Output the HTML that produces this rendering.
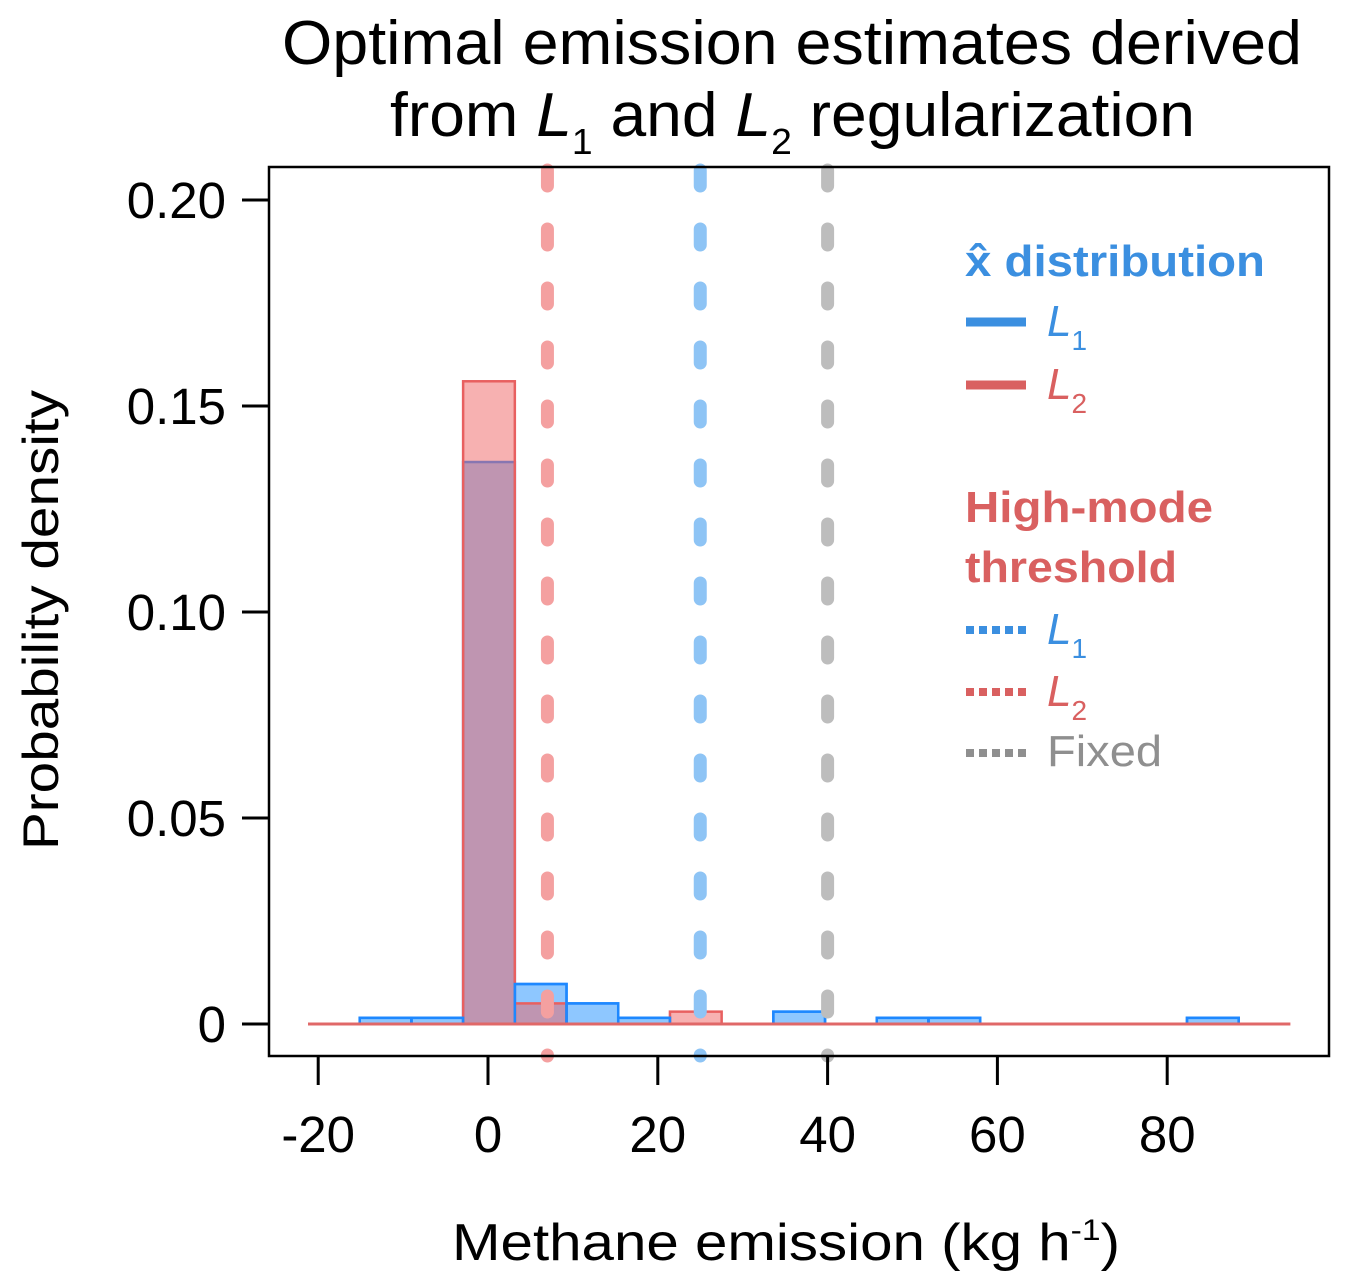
<!DOCTYPE html>
<html><head><meta charset="utf-8"><style>
html,body{margin:0;padding:0;background:#fff}
svg{display:block;font-family:"Liberation Sans",sans-serif}
</style></head><body>
<svg id="chart" width="1345" height="1285" viewBox="0 0 1345 1285" xmlns="http://www.w3.org/2000/svg">
<g font-size="62" fill="#000">
<text x="282" y="64" textLength="1020" lengthAdjust="spacingAndGlyphs">Optimal emission estimates derived</text>
<text x="390" y="136" textLength="805" lengthAdjust="spacingAndGlyphs">from <tspan font-style="italic">L</tspan><tspan font-size="36" dy="18">1</tspan><tspan dy="-18"> and </tspan><tspan font-style="italic">L</tspan><tspan font-size="36" dy="18">2</tspan><tspan dy="-18"> regularization</tspan></text>
</g>
<g id="plot"></g>
<rect x="269" y="167" width="1060" height="889" fill="none" stroke="#000" stroke-width="2.5"/>
<text transform="translate(58,850) rotate(-90)" font-size="50" textLength="460" lengthAdjust="spacingAndGlyphs">Probability density</text>
<text x="452" y="1260" font-size="52" textLength="668" lengthAdjust="spacingAndGlyphs">Methane emission (kg h<tspan font-size="30" dy="-20">-1</tspan><tspan dy="20">)</tspan></text>
<g font-size="44">
<text x="965" y="276" fill="#3b8fe0" font-weight="bold" textLength="300" lengthAdjust="spacingAndGlyphs">x̂ distribution</text>
<line x1="966" y1="322" x2="1026" y2="322" stroke="#3b8fe0" stroke-width="9"/>
<text x="1047" y="336" fill="#3b8fe0" font-style="italic">L<tspan font-size="28" dy="14" font-style="normal">1</tspan></text>
<line x1="966" y1="385" x2="1026" y2="385" stroke="#d96060" stroke-width="9"/>
<text x="1047" y="399" fill="#d96060" font-style="italic">L<tspan font-size="28" dy="14" font-style="normal">2</tspan></text>
<text x="965" y="522" fill="#d96060" font-weight="bold" textLength="248" lengthAdjust="spacingAndGlyphs">High-mode</text>
<text x="965" y="582" fill="#d96060" font-weight="bold" textLength="212" lengthAdjust="spacingAndGlyphs">threshold</text>
<line x1="966" y1="630" x2="1026" y2="630" stroke="#3b8fe0" stroke-width="8" stroke-dasharray="8,5"/>
<text x="1047" y="644" fill="#3b8fe0" font-style="italic">L<tspan font-size="28" dy="14" font-style="normal">1</tspan></text>
<line x1="966" y1="692" x2="1026" y2="692" stroke="#d96060" stroke-width="8" stroke-dasharray="8,5"/>
<text x="1047" y="706" fill="#d96060" font-style="italic">L<tspan font-size="28" dy="14" font-style="normal">2</tspan></text>
<line x1="966" y1="753" x2="1026" y2="753" stroke="#8f8f8f" stroke-width="8" stroke-dasharray="8,5"/>
<text x="1047" y="766" fill="#8f8f8f" textLength="115" lengthAdjust="spacingAndGlyphs">Fixed</text>
</g>
</svg>
<script>
const binStart = -21.2;
const binWidth = 6.09;
const blueDensity = [0,0.0015,0.0015,0.1364,0.0097,0.005,0.0015,0,0,0.003,0,0.0015,0.0015,0,0,0,0,0.0015,0];
const redDensity  = [0,0,0,0.156,0.005,0,0,0.003,0,0,0,0,0,0,0,0,0,0,0];
const thresholds = [7, 25, 40];
const thresholdNames = ['threshold-l2','threshold-l1','threshold-fixed'];
const thresholdColors = ['#f4a0a0','#8ec4f5','#bdbdbd'];
const xTicks = [-20,0,20,40,60,80];
const yTicks = [0,0.05,0.10,0.15,0.20];
const yTickLabels = ['0','0.05','0.10','0.15','0.20'];

const NS='http://www.w3.org/2000/svg';
const sx = v => 488 + (v-0)*8.49;
const sy = v => 1024 - v*4120;
const plot=document.getElementById('plot');
function mk(tag,attrs){const e=document.createElementNS(NS,tag);for(const k in attrs)e.setAttribute(k,attrs[k]);return e;}

function drawHist(vals,fill,stroke,name,sw){
  vals.forEach((d,i)=>{
    if(d<=0) return;
    const x0=sx(binStart+i*binWidth), x1=sx(binStart+(i+1)*binWidth);
    const r=mk('rect',{x:x0,y:sy(d),width:x1-x0,height:sy(0)-sy(d),fill:fill,stroke:stroke,'stroke-width':sw});
    
    
    plot.appendChild(r);
  });
}
drawHist(blueDensity,'rgba(30,144,255,0.5)','#1e88ff','l1-hist',2.5);
drawHist(redDensity,'rgba(240,100,100,0.5)','#e86060','l2-hist',2.5);
drawHist(blueDensity.map((d,i)=>d>redDensity[i]?d:0),'none','#1e88ff','l1-hist-outline',2.5);
const base=mk('line',{x1:sx(binStart),x2:sx(binStart+blueDensity.length*binWidth),y1:sy(0),y2:sy(0),stroke:'#e06868','stroke-width':3});


plot.appendChild(base);

thresholds.forEach((t,i)=>{
  const l=mk('line',{x1:sx(t),x2:sx(t),y1:170,y2:1056,stroke:thresholdColors[i],'stroke-width':13,'stroke-dasharray':'16,43','stroke-linecap':'round'});
  
  
  plot.appendChild(l);
});

xTicks.forEach(t=>{
  const l=mk('line',{x1:sx(t),x2:sx(t),y1:1056,y2:1085,stroke:'#000','stroke-width':3});
  
  
  plot.appendChild(l);
  const tx=mk('text',{x:sx(t),y:1152,'text-anchor':'middle','font-size':51});
  tx.textContent=t;
  
  
  plot.appendChild(tx);
});
yTicks.forEach((t,i)=>{
  const l=mk('line',{x1:242,x2:269,y1:sy(t),y2:sy(t),stroke:'#000','stroke-width':3});
  
  
  plot.appendChild(l);
  const tx=mk('text',{x:226,y:sy(t)+18,'text-anchor':'end','font-size':51});
  tx.textContent=yTickLabels[i];
  
  
  plot.appendChild(tx);
});
</script>
</body></html>
